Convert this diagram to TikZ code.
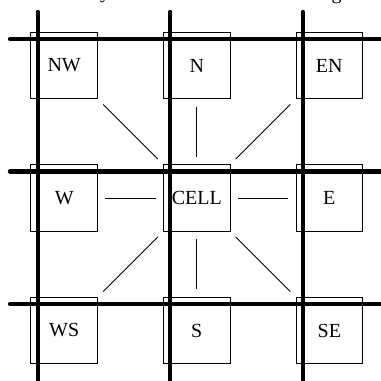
\documentclass[tikz,border=0pt]{standalone}
\usepackage{fontspec}
\setmainfont{Liberation Serif}
\begin{document}
\begin{tikzpicture}[x=1pt,y=-1pt,
  cellbox/.style={draw, line width=1pt, minimum size=66.5pt, inner sep=0pt, font=\fontsize{20}{24}\selectfont},
  captxt/.style={anchor=base, inner sep=0pt, font=\fontsize{20}{24}\selectfont},
  gridline/.style={line width=4.3pt, line cap=round},
  link/.style={line width=0.9pt, shorten <=7.3pt, shorten >=7.3pt}]
\useasboundingbox (0,0) rectangle (381,381);
\clip (0,0) rectangle (381,381);
% cut-off caption above
\node[captxt] (capy) at (105,-1.2) {y};
\node[captxt] (capg) at (336.5,-0.8) {g};
% cells
\node[cellbox] (nw) at (64.2,65.5) {NW};
\node[cellbox] (n) at (196.8,65.5) {N};
\node[cellbox] (en) at (329.3,65.5) {EN};
\node[cellbox] (w) at (64.2,198) {W};
\node[cellbox] (cell) at (196.8,198) {CELL};
\node[cellbox] (e) at (329.3,198) {E};
\node[cellbox] (ws) at (64.2,330.5) {WS};
\node[cellbox] (s) at (196.8,330.5) {S};
\node[cellbox] (se) at (329.3,330.5) {SE};
% grid lines
\foreach \gx in {37.7,170.2,302.7} \draw[gridline] (\gx,12) -- (\gx,395);
\foreach \gy in {39,171.5,304} \draw[gridline] (10,\gy) -- (395,\gy);
% links
\draw[link] (nw.south east) -- (cell.north west);
\draw[link] (n.south) -- (cell.north);
\draw[link] (en.south west) -- (cell.north east);
\draw[link] (w.east) -- (cell.west);
\draw[link] (cell.east) -- (e.west);
\draw[link] (ws.north east) -- (cell.south west);
\draw[link] (s.north) -- (cell.south);
\draw[link] (se.north west) -- (cell.south east);
\end{tikzpicture}
\end{document}
